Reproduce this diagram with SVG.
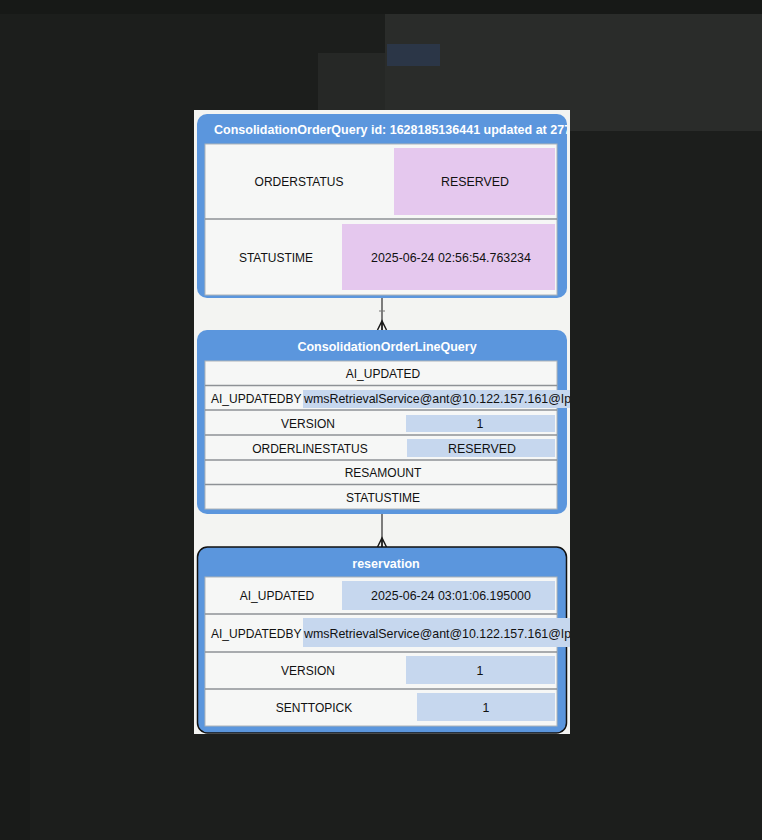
<svg xmlns="http://www.w3.org/2000/svg" width="762" height="840" viewBox="0 0 762 840">
<style>
.lbl{font-family:"Liberation Sans",Arial,sans-serif;font-size:12px;fill:#111;}
.val{font-family:"Liberation Sans",Arial,sans-serif;font-size:12.4px;fill:#111;}
.ttl{font-family:"Liberation Sans",Arial,sans-serif;font-size:12.5px;font-weight:bold;fill:#fff;}
.node{fill:#5b96dd;}
.tbl{fill:#f6f7f6;stroke:#aeb3b8;stroke-width:1;}
.sep{stroke:#8e9296;stroke-width:1.5;}
.pink{fill:#e5c8ee;}
.blue{fill:#c6d7ee;}
.conn{stroke:#555;stroke-width:1.5;fill:none;}
.foot{stroke:#1a1a1a;stroke-width:1.5;fill:none;}
</style>
<defs>
<clipPath id="panelClip"><rect x="194" y="110" width="376" height="625"/></clipPath>
<clipPath id="titleClip"><rect x="197" y="114" width="370" height="30"/></clipPath>
</defs>
<!-- background -->
<rect x="0" y="0" width="762" height="840" fill="#1c1e1c"/>
<rect x="0" y="0" width="762" height="14" fill="#171917"/>
<rect x="385" y="14" width="377" height="117" fill="#2a2c2a"/>
<rect x="318" y="53" width="67" height="78" fill="#262826"/>
<rect x="387" y="44" width="53" height="22" fill="#2b3647"/>
<rect x="0" y="130" width="30" height="710" fill="#191b19"/>
<!-- panel -->
<rect x="194" y="110" width="376" height="624" fill="#f3f4f2"/>
<g clip-path="url(#panelClip)">
<g id="connectors">
<line class="conn" x1="382" y1="298" x2="382" y2="330"/>
<line x1="379" y1="311" x2="385" y2="311" stroke="#777" stroke-width="1"/>
<path class="foot" d="M377.5,330 L382,321 L386.5,330 M382,321 L382,330"/>
<line class="conn" x1="382" y1="514" x2="382" y2="547"/>
<path class="foot" d="M377.5,547 L382,538 L386.5,547 M382,538 L382,547"/>
</g>
<g id="node-ConsolidationOrderQuery">
<rect class="node" x="197" y="114" width="370" height="184" rx="10"/>
<text class="ttl" x="214" y="134" clip-path="url(#titleClip)">ConsolidationOrderQuery id: 1628185136441 updated at 277</text>
<rect class="tbl" x="205" y="144" width="352" height="151"/>
<rect class="pink" x="394" y="148" width="161" height="67"/>
<line class="sep" x1="205" y1="219" x2="557" y2="219"/>
<rect class="pink" x="342" y="224" width="213" height="66"/>
<text class="lbl" x="299" y="186" text-anchor="middle">ORDERSTATUS</text>
<text class="val" x="475" y="186" text-anchor="middle">RESERVED</text>
<text class="lbl" x="276" y="262" text-anchor="middle">STATUSTIME</text>
<text class="val" x="451" y="262" text-anchor="middle">2025-06-24 02:56:54.763234</text>
</g>
<g id="node-ConsolidationOrderLineQuery">
<rect class="node" x="197" y="330" width="370" height="184" rx="10"/>
<text class="ttl" x="387" y="351" text-anchor="middle">ConsolidationOrderLineQuery</text>
<rect class="tbl" x="205" y="361" width="352" height="148"/>
<line class="sep" x1="205" y1="385.5" x2="557" y2="385.5"/>
<line class="sep" x1="205" y1="410" x2="557" y2="410"/>
<line class="sep" x1="205" y1="435" x2="557" y2="435"/>
<line class="sep" x1="205" y1="460" x2="557" y2="460"/>
<line class="sep" x1="205" y1="484.5" x2="557" y2="484.5"/>
<rect class="blue" x="303" y="390" width="267" height="18"/>
<rect class="blue" x="406" y="415" width="149" height="17"/>
<rect class="blue" x="407" y="439" width="148" height="18"/>
<text class="lbl" x="383" y="378" text-anchor="middle">AI_UPDATED</text>
<text class="lbl" x="211" y="403">AI_UPDATEDBY</text>
<text class="val" x="304" y="403">wmsRetrievalService@ant@10.122.157.161@Ip</text>
<text class="lbl" x="308" y="428" text-anchor="middle">VERSION</text>
<text class="val" x="480" y="428" text-anchor="middle">1</text>
<text class="lbl" x="310" y="453" text-anchor="middle">ORDERLINESTATUS</text>
<text class="val" x="482" y="453" text-anchor="middle">RESERVED</text>
<text class="lbl" x="383" y="477" text-anchor="middle">RESAMOUNT</text>
<text class="lbl" x="383" y="502" text-anchor="middle">STATUSTIME</text>
</g>
<g id="node-reservation">
<rect class="node" x="197.5" y="547" width="369" height="186" rx="10" stroke="#111" stroke-width="1.5"/>
<text class="ttl" x="386" y="568" text-anchor="middle">reservation</text>
<rect class="tbl" x="205" y="577" width="352" height="149"/>
<line class="sep" x1="205" y1="614" x2="557" y2="614"/>
<line class="sep" x1="205" y1="652" x2="557" y2="652"/>
<line class="sep" x1="205" y1="689" x2="557" y2="689"/>
<rect class="blue" x="342" y="581" width="213" height="29"/>
<rect class="blue" x="303" y="618" width="267" height="29"/>
<rect class="blue" x="406" y="656" width="149" height="28"/>
<rect class="blue" x="417" y="693" width="138" height="28"/>
<text class="lbl" x="277" y="600" text-anchor="middle">AI_UPDATED</text>
<text class="val" x="451" y="600" text-anchor="middle">2025-06-24 03:01:06.195000</text>
<text class="lbl" x="211" y="638">AI_UPDATEDBY</text>
<text class="val" x="304" y="638">wmsRetrievalService@ant@10.122.157.161@Ip</text>
<text class="lbl" x="308" y="675" text-anchor="middle">VERSION</text>
<text class="val" x="480" y="675" text-anchor="middle">1</text>
<text class="lbl" x="314" y="712" text-anchor="middle">SENTTOPICK</text>
<text class="val" x="486" y="712" text-anchor="middle">1</text>
</g>
</g>
</svg>
